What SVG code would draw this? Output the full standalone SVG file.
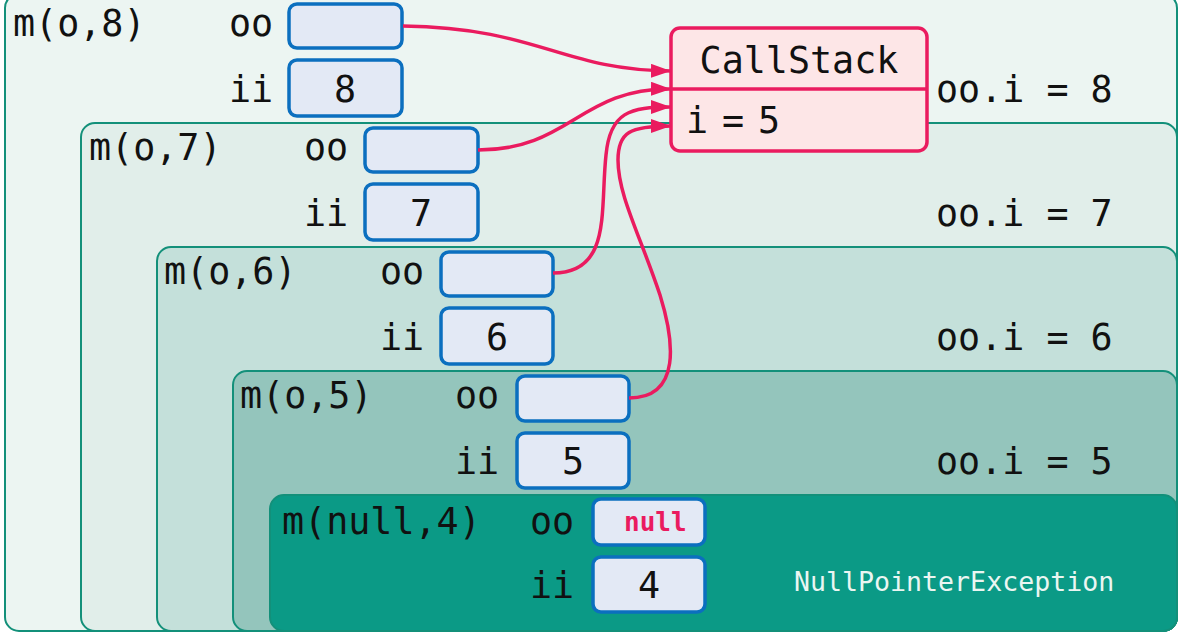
<svg xmlns="http://www.w3.org/2000/svg" width="1182" height="632" viewBox="0 0 1182 632">
<defs>
<style>
.fr{stroke:#13907a;stroke-width:2}
.t{font-family:"DejaVu Sans Mono",monospace;font-size:36.7px;fill:#111}
.box{fill:#e3e9f5;stroke:#0b6fbf;stroke-width:3.5}
.c{stroke:#ea1b5f;stroke-width:3.5;fill:none}
</style>
<marker id="ah" viewBox="0 0 20 14" refX="20" refY="7" markerWidth="20" markerHeight="14" markerUnits="userSpaceOnUse" orient="auto">
<path d="M0,0 L20,7 L0,14 z" fill="#ea1b5f"/>
</marker>
</defs>
<g id="frame8">
<rect class="fr" x="5" y="-6" width="1172" height="637" rx="14" fill="#ecf5f2"/>
<text class="t" x="13" y="36">m(o,8)</text>
<text class="t" x="229" y="36">oo</text>
<rect class="box" x="289" y="4" width="113" height="44" rx="8"/>
<text class="t" x="229" y="102">ii</text>
<rect class="box" x="289" y="60" width="113" height="56" rx="8"/>
<text class="t" x="345" y="102" text-anchor="middle">8</text>
<text class="t" x="936" y="102">oo.i = 8</text>
</g>
<g id="frame7">
<rect class="fr" x="81" y="123" width="1096" height="508" rx="14" fill="#e1eeea"/>
<text class="t" x="89" y="160">m(o,7)</text>
<text class="t" x="304" y="160">oo</text>
<rect class="box" x="365" y="128" width="113" height="44" rx="8"/>
<text class="t" x="304" y="226">ii</text>
<rect class="box" x="365" y="184" width="113" height="56" rx="8"/>
<text class="t" x="421" y="226" text-anchor="middle">7</text>
<text class="t" x="936" y="226">oo.i = 7</text>
</g>
<g id="frame6">
<rect class="fr" x="157" y="247" width="1020" height="384" rx="14" fill="#c4e0da"/>
<text class="t" x="164" y="284">m(o,6)</text>
<text class="t" x="380" y="284">oo</text>
<rect class="box" x="441" y="252" width="112" height="44" rx="8"/>
<text class="t" x="380" y="350">ii</text>
<rect class="box" x="441" y="308" width="112" height="56" rx="8"/>
<text class="t" x="497" y="350" text-anchor="middle">6</text>
<text class="t" x="936" y="350">oo.i = 6</text>
</g>
<g id="frame5">
<rect class="fr" x="233" y="371" width="944" height="260" rx="14" fill="#94c5bc"/>
<text class="t" x="240" y="408">m(o,5)</text>
<text class="t" x="455" y="408">oo</text>
<rect class="box" x="517" y="376" width="112" height="45" rx="8"/>
<text class="t" x="455" y="474">ii</text>
<rect class="box" x="517" y="433" width="112" height="55" rx="8"/>
<text class="t" x="573" y="474" text-anchor="middle">5</text>
<text class="t" x="936" y="474">oo.i = 5</text>
</g>
<g id="frame4">
<rect class="fr" x="270" y="495" width="907" height="136" rx="14" fill="#0b9a86"/>
<text class="t" x="282" y="534">m(null,4)</text>
<text class="t" x="530" y="534">oo</text>
<rect class="box" x="593" y="499" width="112" height="46" rx="8"/>
<text x="624" y="531" font-family="'DejaVu Sans Mono',monospace" font-size="26" font-weight="bold" fill="#ea1b5f">null</text>
<text class="t" x="530" y="598">ii</text>
<rect class="box" x="593" y="557" width="112" height="55" rx="8"/>
<text class="t" x="649" y="598" text-anchor="middle">4</text>
<text x="794" y="591" font-family="'DejaVu Sans Mono',monospace" font-size="26.6" fill="#eaf6f2">NullPointerException</text>
</g>
<g id="callstack">
<rect x="671" y="28" width="256" height="123" rx="9" fill="#fde6e7" stroke="#ea1b5f" stroke-width="3.5"/>
<line x1="671" y1="89" x2="927" y2="89" stroke="#ea1b5f" stroke-width="3.5"/>
<text class="t" x="799" y="73" text-anchor="middle">CallStack</text>
<text class="t" y="133" text-anchor="middle"><tspan x="697">i</tspan><tspan x="733">=</tspan><tspan x="769">5</tspan></text>
</g>
<g id="connectors">
<path class="c" marker-end="url(#ah)" d="M403,26 C 540,28 560,70 671,71"/>
<path class="c" marker-end="url(#ah)" d="M478,150 C 570,150 580,88 671,89"/>
<path class="c" marker-end="url(#ah)" d="M553,273 C 612,273 600,210 606,155 C 610,112 630,107 671,107"/>
<path class="c" marker-end="url(#ah)" d="M629,398 C 682,398 674,340 660,295 C 640,235 618,195 618,160 C 618,132 630,126 671,126"/>
</g>
</svg>
